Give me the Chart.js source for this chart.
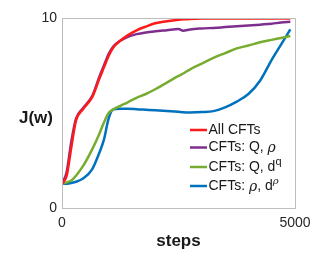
<!DOCTYPE html>
<html>
<head>
<meta charset="utf-8">
<script src="https://cdn.jsdelivr.net/npm/chart.js@4"></script>
<style>
  html, body { margin: 0; padding: 0; background: #fff; }
  #wrap { width: 327px; height: 256px; }
</style>
</head>
<body>
<div id="wrap"><canvas id="grafico"></canvas></div>
<script>
// pasos de entrenamiento (eje x)
const steps = [0, 100, 200, 300, 450, 650, 800, 900, 1000, 1100, 1250, 1400, 1600, 1800, 2000, 2250, 2500, 2600, 2750, 3000, 3250, 3500, 3750, 4000, 4250, 4500, 4700, 4900];

const allCFTs = [1.27, 1.7, 3.2, 4.6, 5.2, 5.85, 6.8, 7.4, 8.0, 8.45, 8.8, 9.07, 9.35, 9.55, 9.72, 9.83, 9.91, 9.93, 9.95, 9.97, 9.98, 9.98, 9.98, 9.98, 9.98, 9.98, 9.98, 9.98];
const cftsQRho = [1.27, 1.9, 3.5, 4.7, 5.25, 5.9, 6.9, 7.5, 8.1, 8.5, 8.8, 9.0, 9.15, 9.24, 9.3, 9.36, 9.42, 9.33, 9.4, 9.45, 9.48, 9.52, 9.56, 9.6, 9.65, 9.7, 9.76, 9.8];
const cftsQDq = [1.27, 1.35, 1.45, 1.7, 2.2, 3.1, 3.9, 4.5, 5.0, 5.19, 5.38, 5.55, 5.8, 6.0, 6.25, 6.6, 6.95, 7.08, 7.3, 7.6, 7.9, 8.15, 8.4, 8.55, 8.72, 8.85, 8.95, 9.05];
const cftsRhoDrho = [1.27, 1.28, 1.32, 1.38, 1.55, 2.05, 2.9, 3.6, 4.7, 5.19, 5.22, 5.22, 5.2, 5.17, 5.14, 5.1, 5.06, 5.04, 5.03, 5.05, 5.1, 5.3, 5.6, 6.0, 6.7, 7.8, 8.6, 9.4];

const xTicks = [0, 5000];
const yTicks = [0, 10];

const seriesNames = ['All CFTs', 'CFTs: Q, ρ', 'CFTs: Q, dq', 'CFTs: ρ, dρ'];
// partes del texto de la leyenda: n = normal, i = cursiva, s = superindice, si = superindice cursiva
const labelParts = [
  [['All CFTs', 'n']],
  [['CFTs: Q, ', 'n'], ['ρ', 'i']],
  [['CFTs: Q, d', 'n'], ['q', 's']],
  [['CFTs: ', 'n'], ['ρ', 'i'], [', d', 'n'], ['ρ', 'si']]
];
const colores = ['#ff1a1a', '#7e2f8e', '#77ac30', '#0072bd'];

function puntos(vals) {
  return steps.map((s, i) => ({ x: s, y: vals[i] }));
}

const extras = {
  id: 'extras',
  afterDraw(chart) {
    const ctx = chart.ctx;
    const a = chart.chartArea;
    ctx.save();
    // caja del grafico
    ctx.strokeStyle = '#bdbdbd';
    ctx.lineWidth = 1;
    ctx.strokeRect(a.left + 0.5, a.top + 0.5, a.right - a.left, a.bottom - a.top);

    // titulo del eje y (horizontal)
    ctx.fillStyle = '#1a1a1a';
    ctx.font = 'bold 17px "Liberation Sans", Arial, sans-serif';
    ctx.textAlign = 'center';
    ctx.textBaseline = 'middle';
    ctx.fillText('J(w)', 36, 118);

    // leyenda
    const filas = [130, 147.5, 167, 186];
    ctx.textAlign = 'left';
    ctx.textBaseline = 'middle';
    labelParts.forEach((parts, i) => {
      const y = filas[i];
      ctx.strokeStyle = colores[i];
      ctx.lineWidth = 2.5;
      ctx.beginPath();
      ctx.moveTo(190, y);
      ctx.lineTo(207, y);
      ctx.stroke();
      let x = 208.5;
      ctx.fillStyle = '#1a1a1a';
      parts.forEach(([txt, st]) => {
        let dy = 0;
        if (st === 'n') ctx.font = '14px "Liberation Sans", Arial, sans-serif';
        if (st === 'i') ctx.font = 'italic 14px "DejaVu Serif", serif';
        if (st === 's') { ctx.font = '11px "Liberation Sans", Arial, sans-serif'; dy = -5; }
        if (st === 'si') { ctx.font = 'italic 10px "DejaVu Serif", serif'; dy = -5; }
        ctx.fillText(txt, x, y + dy + (st === 'i' ? 1 : 0));
        x += ctx.measureText(txt).width;
      });
    });
    ctx.restore();
  }
};

const grafico = document.getElementById('grafico');

new Chart(grafico, {
  type: 'line',
  data: {
    datasets: [
      { label: seriesNames[0], data: puntos(allCFTs), borderColor: colores[0] },
      { label: seriesNames[1], data: puntos(cftsQRho), borderColor: colores[1] },
      { label: seriesNames[2], data: puntos(cftsQDq), borderColor: colores[2] },
      { label: seriesNames[3], data: puntos(cftsRhoDrho), borderColor: colores[3] }
    ]
  },
  options: {
    responsive: true,
    maintainAspectRatio: false,
    animation: false,
    layout: { padding: { top: 18, right: 32, left: 0, bottom: 0 } },
    elements: {
      point: { radius: 0 },
      line: { borderWidth: 2.5, cubicInterpolationMode: 'monotone', fill: false }
    },
    plugins: {
      legend: { display: false },
      tooltip: { enabled: false }
    },
    scales: {
      x: {
        type: 'linear',
        min: 0,
        max: 5000,
        afterBuildTicks: (s) => { s.ticks = xTicks.map(v => ({ value: v })); },
        afterFit: (s) => { s.height = 48; },
        grid: { display: false, drawTicks: false },
        border: { display: false },
        ticks: {
          padding: 7,
          maxRotation: 0,
          color: '#262626',
          callback: (v) => String(v),
          font: { size: 14, family: '"Liberation Sans", Arial, sans-serif' }
        },
        title: {
          display: true,
          text: 'steps',
          color: '#1a1a1a',
          padding: { top: 4, bottom: 4 },
          font: { size: 17, weight: 'bold', family: '"Liberation Sans", Arial, sans-serif' }
        }
      },
      y: {
        min: 0,
        max: 10,
        afterBuildTicks: (s) => { s.ticks = yTicks.map(v => ({ value: v })); },
        afterFit: (s) => { s.width = 62; },
        grid: { display: false, drawTicks: false },
        border: { display: false },
        ticks: {
          padding: 5,
          color: '#262626',
          callback: (v) => String(v),
          font: { size: 14, family: '"Liberation Sans", Arial, sans-serif' }
        }
      }
    }
  },
  plugins: [extras]
});
</script>
</body>
</html>
